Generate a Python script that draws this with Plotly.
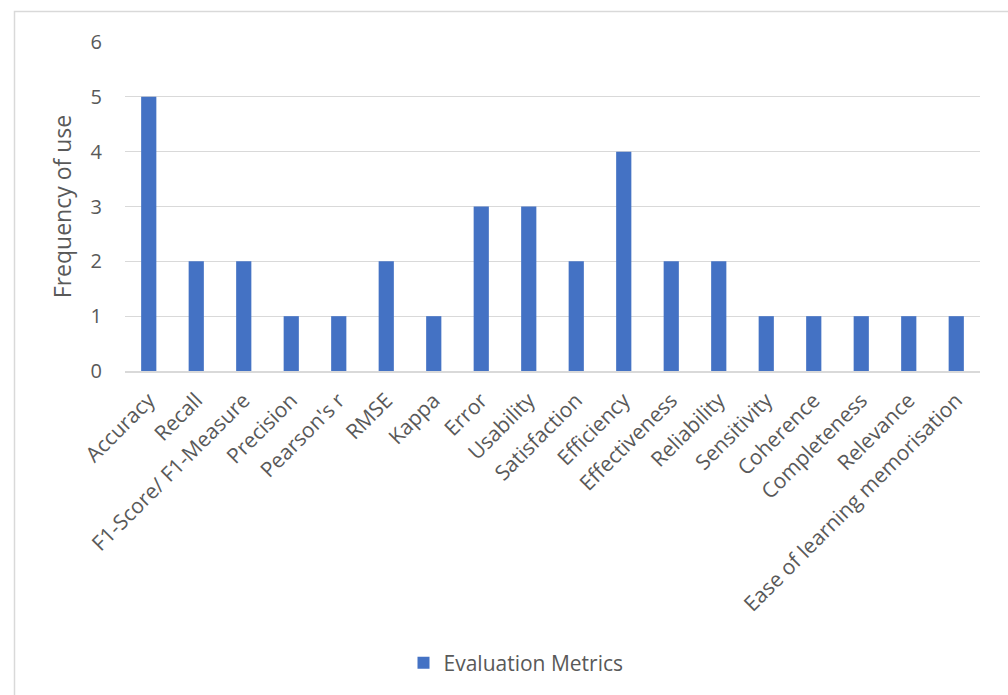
import plotly.graph_objects as go

metrics = [
    "Accuracy", "Recall", "F1-Score/ F1-Measure", "Precision", "Pearson's r",
    "RMSE", "Kappa", "Error", "Usability", "Satisfaction", "Efficiency",
    "Effectiveness", "Reliability", "Sensitivity", "Coherence",
    "Completeness", "Relevance", "Ease of learning memorisation",
]
frequency = [5, 2, 2, 1, 1, 2, 1, 3, 3, 2, 4, 2, 2, 1, 1, 1, 1, 1]
y_ticks = [0, 1, 2, 3, 4, 5, 6]

W, H = 1008, 695
L, R, T, B = 125, 28, 42, 324
pw, ph = W - L - R, H - T - B

def px_x(x):
    return (x - L) / pw

def px_y(y):
    return (H - B - y) / ph

text_color = "#595959"
font_family = "'Open Sans', 'Noto Sans', 'Liberation Sans', sans-serif"

fig = go.Figure(
    go.Bar(
        x=metrics,
        y=frequency,
        name="Evaluation Metrics",
        marker=dict(color="#4472C4", line=dict(width=0)),
        showlegend=True,
    )
)

fig.update_layout(
    width=W,
    height=H,
    margin=dict(l=L, r=R, t=T, b=B, autoexpand=False),
    paper_bgcolor="white",
    plot_bgcolor="white",
    bargap=0.68,
    font=dict(family=font_family, color=text_color, size=21),
    showlegend=True,
    legend=dict(
        orientation="h",
        x=px_x(516),
        y=px_y(663),
        xanchor="center",
        yanchor="middle",
        font=dict(size=21, color=text_color),
        itemwidth=30,
    ),
    xaxis=dict(
        tickangle=-45,
        tickfont=dict(size=21, color=text_color),
        showgrid=False,
        showline=True,
        linecolor="#d9d9d9",
        linewidth=1.5,
        ticks="",
        ticklabelstandoff=7,
    ),
    yaxis=dict(
        range=[0, 6],
        tickvals=y_ticks,
        tickfont=dict(size=20, color=text_color),
        showgrid=True,
        gridcolor="#d9d9d9",
        gridwidth=1,
        zeroline=False,
        showline=False,
        ticks="",
        ticklabelstandoff=22,
        title=dict(text="Frequency of use", font=dict(size=23, color=text_color), standoff=12),
    ),
    shapes=[
        dict(
            type="rect",
            xref="paper",
            yref="paper",
            x0=px_x(14.5),
            x1=px_x(W + 10),
            y0=px_y(H + 10),
            y1=px_y(11.5),
            line=dict(color="#d9d9d9", width=1.5),
            fillcolor="rgba(0,0,0,0)",
            layer="below",
        )
    ],
)

fig.write_html("out.html")
